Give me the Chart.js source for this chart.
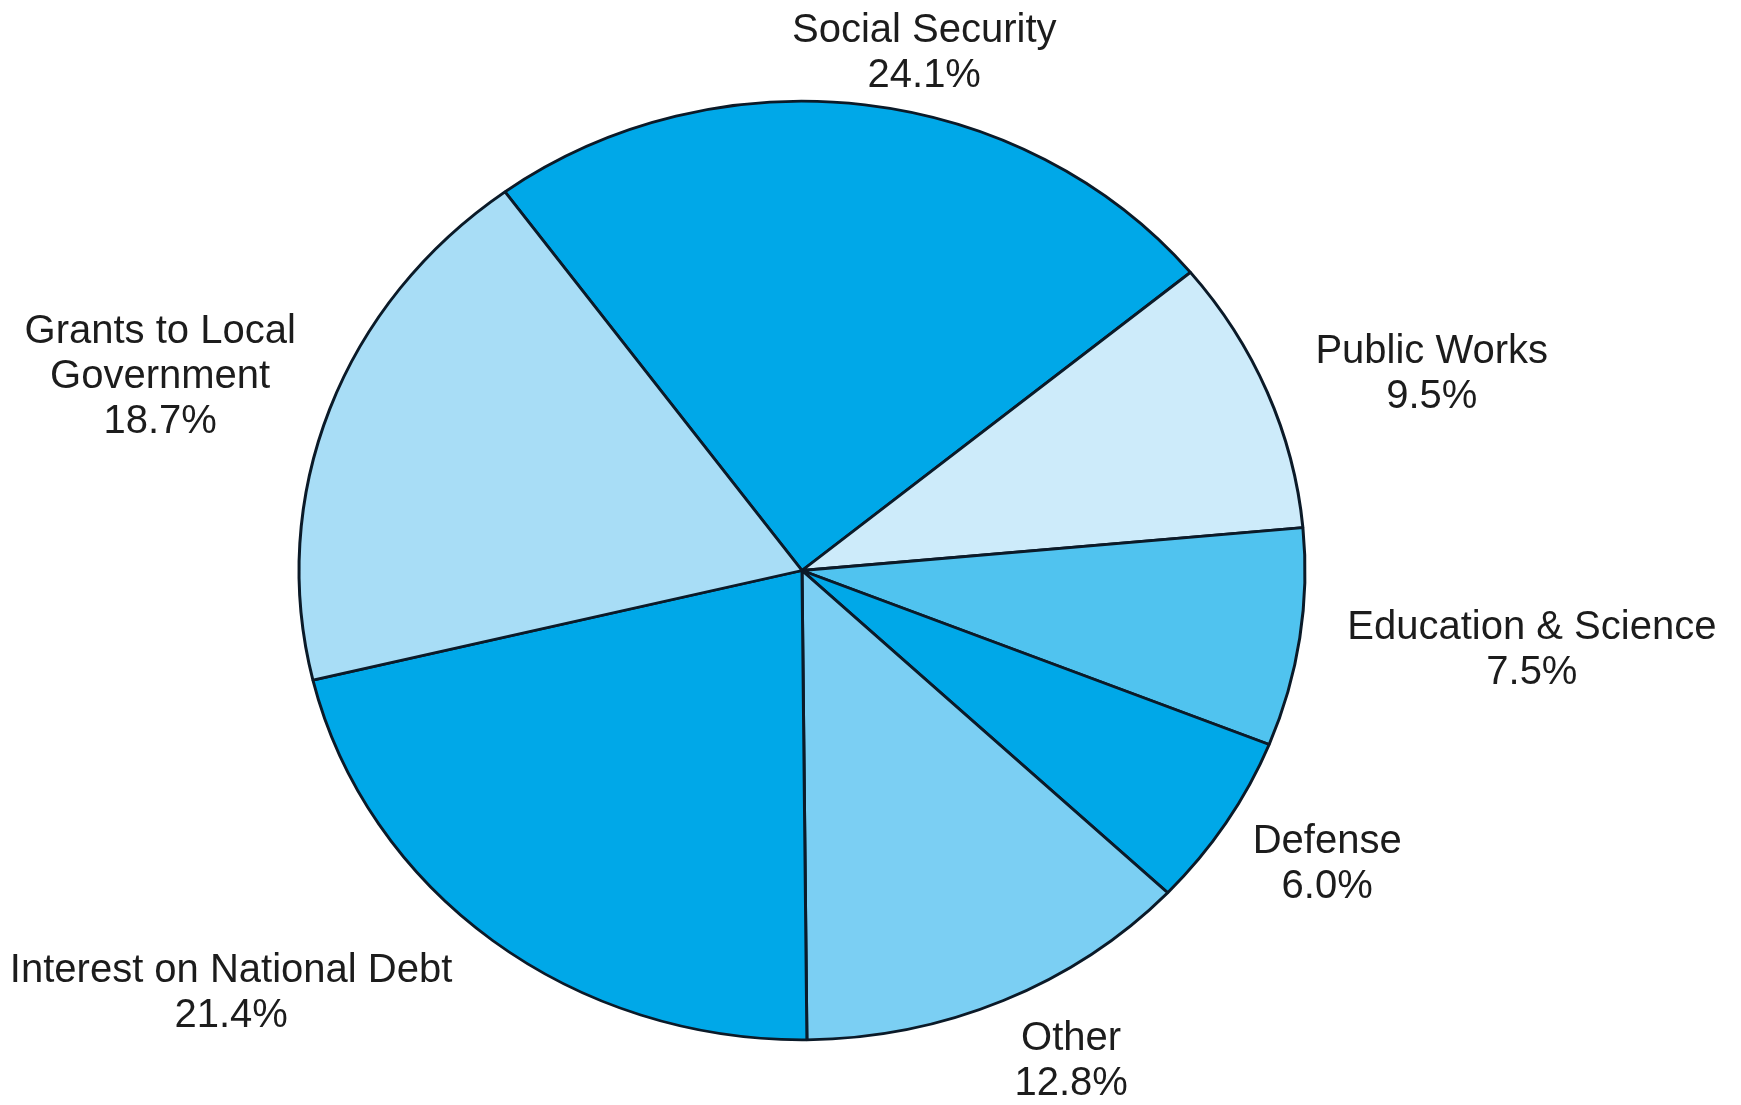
<!DOCTYPE html>
<html>
<head>
<meta charset="utf-8">
<script src="https://cdn.jsdelivr.net/npm/chart.js@4.4.8/dist/chart.umd.min.js"></script>
<style>
  html, body { margin: 0; padding: 0; background: #fff; }
  #wrap { width: 1741px; height: 1105px; position: relative; }
</style>
</head>
<body>
<div id="wrap"><canvas id="pie"></canvas></div>
<script>
  // chart data
  const categories = ['Social Security', 'Public Works', 'Education & Science', 'Defense', 'Other', 'Interest on National Debt', 'Grants to Local Government'];
  const labelLines = [['Social Security'], ['Public Works'], ['Education & Science'], ['Defense'], ['Other'], ['Interest on National Debt'], ['Grants to Local', 'Government']];
  const shares = [24.1, 9.5, 7.5, 6.0, 12.8, 21.4, 18.7];
  const sliceColors = ['#00a8e8', '#cdebfa', '#50c3ef', '#00a8e8', '#7bcff3', '#00a8e8', '#a8ddf6'];

  // where each label block sits, relative to pie centre in units of radius
  const labelAnchor = [[0.243, -1.027], [1.252, -0.389], [1.451, 0.158], [1.044, 0.585], [0.535, 0.977], [-1.135, 0.840], [-1.276, -0.385]];
  const squish = 0.933; // reference pie is an ellipse, flatten vertically

  const ellipsePlugin = {
    id: 'ellipse',
    beforeDatasetsDraw(chart) {
      const arc = chart.getDatasetMeta(0).data[0];
      const c = chart.ctx;
      c.save();
      c.translate(arc.x, arc.y);
      c.scale(1, squish);
      c.translate(-arc.x, -arc.y);
    },
    afterDatasetsDraw(chart) {
      chart.ctx.restore();
    }
  };

  const labelPlugin = {
    id: 'sliceLabels',
    afterDraw(chart) {
      const c = chart.ctx;
      const arcs = chart.getDatasetMeta(0).data;
      const r = arcs[0].outerRadius;
      const cx = arcs[0].x, cy = arcs[0].y;
      c.save();
      c.font = '40px "Liberation Sans", Arial, sans-serif';
      c.fillStyle = '#1c1c1c';
      c.textAlign = 'center';
      c.textBaseline = 'middle';
      const lh = 45;
      shares.forEach((v, i) => {
        const lines = labelLines[i].concat([v.toFixed(1) + '%']);
        const x = cx + labelAnchor[i][0] * r;
        const y = cy + labelAnchor[i][1] * r;
        const y0 = y - (lines.length - 1) * lh / 2;
        lines.forEach((t, j) => c.fillText(t, x, y0 + j * lh));
      });
      c.restore();
    }
  };

  new Chart(document.getElementById('pie'), {
    type: 'pie',
    data: {
      labels: categories,
      datasets: [{
        data: shares,
        backgroundColor: sliceColors,
        borderColor: '#0b1a28',
        borderWidth: 3
      }]
    },
    options: {
      responsive: true,
      maintainAspectRatio: false,
      animation: false,
      rotation: -36.2,
      layout: { padding: { left: 297.5, right: 434.5, top: 66, bottom: 30 } },
      plugins: {
        legend: { display: false },
        tooltip: { enabled: false }
      }
    },
    plugins: [ellipsePlugin, labelPlugin]
  });
</script>
</body>
</html>
